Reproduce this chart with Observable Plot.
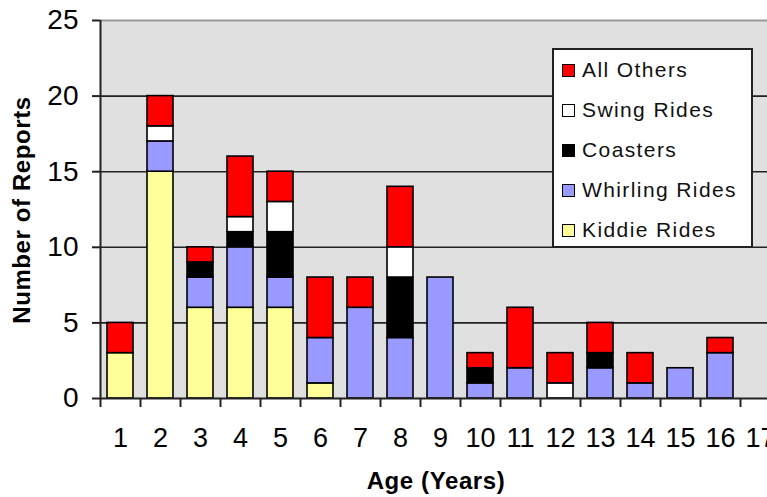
<!DOCTYPE html>
<html>
<head>
<meta charset="utf-8">
<script src="https://cdn.jsdelivr.net/npm/d3@7"></script>
<script src="https://cdn.jsdelivr.net/npm/@observablehq/plot@0.6"></script>
<style>
  body { margin: 0; background: #fff; overflow: hidden; font-family: "Liberation Sans", Arial, sans-serif; }
  #wrap { position: relative; width: 767px; height: 497px; overflow: hidden; }
  #legend { position: absolute; left: 552px; top: 48px; width: 197px; height: 196px; border: 2px solid #222; background: #fff; }
  #legend .row { height: 40px; display: flex; align-items: center; padding-left: 8px; }
  #legend .sw { width: 11px; height: 11px; border: 1.5px solid #000; margin-right: 7px; flex: none; }
  #legend .lab { font-size: 21px; letter-spacing: 1.4px; color: #111; white-space: nowrap; }
</style>
</head>
<body>
<div id="wrap"></div>
<script>
const ages = [1, 2, 3, 4, 5, 6, 7, 8, 9, 10, 11, 12, 13, 14, 15, 16, 17];
const seriesNames = ["Kiddie Rides", "Whirling Rides", "Coasters", "Swing Rides", "All Others"];
const seriesColors = ["#ffff99", "#9999ff", "#000000", "#ffffff", "#ff0000"];
const kiddie   = [3, 15, 6, 6, 6, 1, 0, 0, 0, 0, 0, 0, 0, 0, 0, 0, 0];
const whirling = [0, 2, 2, 4, 2, 3, 6, 4, 8, 1, 2, 0, 2, 1, 2, 3, 0];
const coasters = [0, 0, 1, 1, 3, 0, 0, 4, 0, 1, 0, 0, 1, 0, 0, 0, 0];
const swing    = [0, 1, 0, 1, 2, 0, 0, 2, 0, 0, 0, 1, 0, 0, 0, 0, 0];
const others   = [2, 2, 1, 4, 2, 4, 2, 4, 0, 1, 4, 2, 2, 2, 0, 1, 0];
const yTicks = [0, 5, 10, 15, 20, 25];
const gridValues = [5, 10, 15, 20];
const legendOrder = ["All Others", "Swing Rides", "Coasters", "Whirling Rides", "Kiddie Rides"];

const seriesValues = [kiddie, whirling, coasters, swing, others];
const rows = [];
seriesNames.forEach((name, s) => {
  ages.forEach((age, i) => rows.push({age, series: name, count: seriesValues[s][i]}));
});

const plot = Plot.plot({
  width: 767,
  height: 497,
  marginLeft: 100,
  marginTop: 20,
  marginBottom: 99,
  marginRight: 0,
  style: {fontFamily: "Liberation Sans, Arial, sans-serif", fontSize: "27px", color: "#000", background: "transparent", overflow: "hidden"},
  x: {domain: [0.5, 17.5], range: [100, 780]},
  y: {domain: [0, 25], range: [398, 20]},
  color: {domain: seriesNames, range: seriesColors},
  marks: [
    Plot.frame({fill: "#e0e0e0", stroke: null}),
    Plot.ruleY([25], {stroke: "#999", strokeWidth: 2}),
    Plot.ruleY(gridValues, {stroke: "#222", strokeWidth: 1.6}),
    Plot.rectY(rows, {
      x1: d => d.age - 0.5,
      x2: d => d.age + 0.5,
      y: "count",
      fill: "series",
      insetLeft: 7,
      insetRight: 7,
      stroke: "#000",
      strokeWidth: 1.6
    }),
    Plot.ruleX([0.5], {stroke: "#222", strokeWidth: 2}),
    Plot.ruleY([0], {stroke: "#222", strokeWidth: 2}),
    Plot.axisY({ticks: yTicks, tickSize: 8, tickPadding: 14, fontSize: 28, label: null, stroke: "#222", strokeWidth: 2}),
    Plot.axisX({ticks: d3.range(0.5, 18, 1), tickSize: 9, tickFormat: () => "", label: null, stroke: "#222", strokeWidth: 2}),
    Plot.axisX({ticks: ages, tickSize: 0, tickPadding: 29, fontSize: 27, label: null})
  ]
});

const wrap = document.getElementById("wrap");
wrap.appendChild(plot);

const svg = d3.select(plot);
svg.append("text")
  .attr("transform", "translate(436,489)")
  .attr("text-anchor", "middle")
  .attr("font-weight", "bold")
  .attr("font-size", 24)
  .attr("letter-spacing", "0.6px")
  .attr("fill", "#000")
  .text("Age (Years)");
svg.append("text")
  .attr("transform", "translate(30,210) rotate(-90)")
  .attr("text-anchor", "middle")
  .attr("font-weight", "bold")
  .attr("font-size", 24)
  .attr("letter-spacing", "0.6px")
  .attr("fill", "#000")
  .text("Number of Reports");

const legend = d3.select(wrap).append("div").attr("id", "legend");
legendOrder.forEach(name => {
  const row = legend.append("div").attr("class", "row");
  row.append("div").attr("class", "sw").style("background", seriesColors[seriesNames.indexOf(name)]);
  row.append("div").attr("class", "lab").text(name);
});
</script>
</body>
</html>
